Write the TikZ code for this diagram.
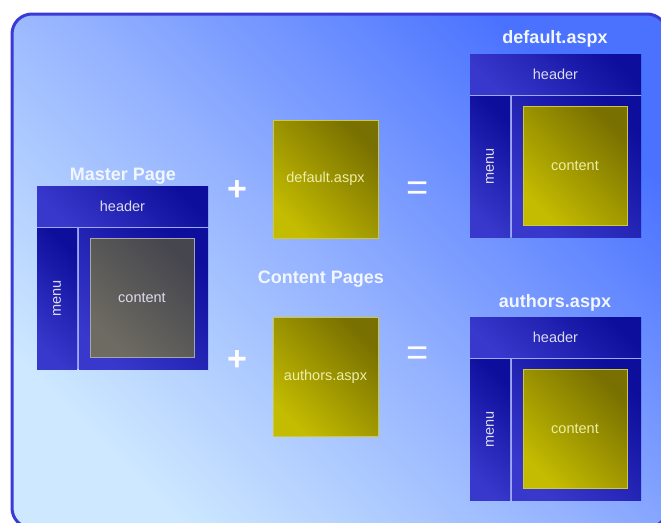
\documentclass[tikz,border=0pt]{standalone}
\usepackage{fontspec}
\setmainfont{Liberation Sans}
\definecolor{frameblue}{HTML}{3A3AD6}
\definecolor{bgdark}{HTML}{4A72FF}
\definecolor{bgmid}{HTML}{92B0FF}
\definecolor{bglight}{HTML}{CDE8FF}
\definecolor{navylight}{HTML}{3838CC}
\definecolor{navydark}{HTML}{0E0E9C}
\definecolor{seam}{HTML}{9AAAF6}
\definecolor{graylight}{HTML}{6E6C62}
\definecolor{graydark}{HTML}{46464E}
\definecolor{olivelight}{HTML}{C4BC00}
\definecolor{olivedark}{HTML}{787000}
\definecolor{paletext}{HTML}{DCDCEC}
\definecolor{yellowtext}{HTML}{EEEEA8}
\definecolor{titletext}{HTML}{F2F6FF}
\tikzset{
  boxtext/.style={font=\fontsize{14.5}{17}\selectfont, inner sep=0pt, outer sep=0pt},
  navy/.style={boxtext, text=paletext, bottom color=navylight, top color=navydark, shading angle=-45},
  grayinner/.style={boxtext, text=paletext, draw=gray!70!white, line width=0.8pt,
    bottom color=graylight, top color=graydark, shading angle=-45},
  oliveinner/.style={boxtext, text=yellowtext, draw=olivelight!80!white, line width=0.6pt,
    bottom color=olivelight, top color=olivedark, shading angle=-45},
  pagetitle/.style={text=titletext, font=\bfseries\fontsize{18}{21}\selectfont, inner sep=0pt, anchor=base},
  plussign/.style={text=white, font=\bfseries\fontsize{34}{36}\selectfont, inner sep=0pt},
  eqsign/.style={text=white, font=\fontsize{38}{40}\selectfont, inner sep=0pt},
  % a page layout: header band, menu column and a content frame holding the content area
  pics/pagelayout/.style={code={
    \fill[seam] (0,0) rectangle (171,183);
    \node[navy, anchor=north west, minimum width=171pt, minimum height=40pt] (-header) at (0,0) {header};
    \node[navy, anchor=north west, minimum width=40pt, minimum height=141pt] (-menu) at (0,42) {};
    \node[boxtext, text=paletext, rotate=90] (-menutext) at (-menu.center) {menu};
    \node[navy, anchor=north west, minimum width=129pt, minimum height=141pt] (-frame) at (42,42) {};
    \node[#1, anchor=north west, minimum width=104pt, minimum height=119pt] (-content) at (53,52) {content};
  }}
}
\begin{document}
\begin{tikzpicture}[x=1pt, y=-1pt]
  \path[use as bounding box, fill=white] (0,0) rectangle (661,522);
  % rounded backdrop, running past the right and bottom edges
  \draw[rounded corners=20pt, line width=3pt, draw=frameblue,
        bottom color=bglight, top color=bgdark, middle color=bgmid, shading angle=-45]
    (12,14) rectangle (667,528);

  % master page
  \node[pagetitle] (mastertitle) at (123,180) {Master Page};
  \pic (master) at (37,186) {pagelayout=grayinner};

  % content pages
  \node[oliveinner, anchor=north west, minimum width=105pt, minimum height=118pt] (dfltpage) at (273,120) {default.aspx};
  \node[oliveinner, anchor=north west, minimum width=105pt, minimum height=119pt] (authpage) at (273,317) {authors.aspx};
  \node[pagetitle] (contentpages) at (321,283) {Content Pages};

  % operators
  \node[plussign] (plusa) at (237,191) {+};
  \node[plussign] (plusb) at (237,361) {+};
  \node[eqsign] (eqa) at (418,191) {=};
  \node[eqsign] (eqb) at (418,356) {=};

  % resulting pages
  \node[pagetitle] (dflttitle) at (555,43) {default.aspx};
  \pic (dflt) at (470,54) {pagelayout=oliveinner};
  \node[pagetitle] (authtitle) at (555,307) {authors.aspx};
  \pic (auth) at (470,317) {pagelayout=oliveinner};
\end{tikzpicture}
\end{document}
